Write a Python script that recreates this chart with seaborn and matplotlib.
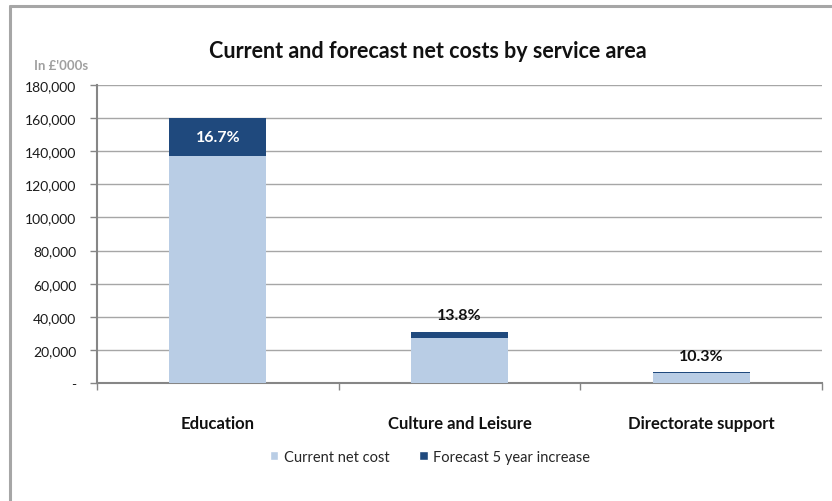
import matplotlib
matplotlib.use("Agg")
import matplotlib.pyplot as plt
from matplotlib.lines import Line2D
from matplotlib.patches import Patch
from matplotlib.ticker import FuncFormatter, FixedLocator
import seaborn as sns
import pandas as pd

# Net costs in £'000s
categories = ["Education", "Culture and Leisure", "Directorate support"]
current_cost = [137000, 27300, 5900]
forecast_increase = [22900, 3770, 610]
pct_labels = ["16.7%", "13.8%", "10.3%"]

light = "#B9CDE5"
dark = "#1F497D"
grid_col = "#A6A6A6"
axis_col = "#868686"

sns.set_theme(style="white")
plt.rcParams["font.family"] = ["Lato", "DejaVu Sans"]

df = pd.DataFrame({
    "category": categories,
    "current": current_cost,
    "total": [c + f for c, f in zip(current_cost, forecast_increase)],
})

W, H = 832, 502
fig = plt.figure(figsize=(W / 100, H / 100), dpi=100)
ax = fig.add_axes([97 / W, (H - 384) / H, (822 - 97) / W, (384 - 86) / H])

sns.barplot(data=df, x="category", y="total", color=dark, width=0.4,
            saturation=1, linewidth=0, ax=ax, zorder=2)
sns.barplot(data=df, x="category", y="current", color=light, width=0.4,
            saturation=1, linewidth=0, ax=ax, zorder=3)

ax.set_xlim(-0.5, 2.5)
ax.set_ylim(0, 180000)
ax.yaxis.set_major_locator(FixedLocator(range(0, 180001, 20000)))
ax.yaxis.set_major_formatter(FuncFormatter(lambda v, p: "-" if v == 0 else f"{int(v):,}"))
ax.grid(axis="y", color=grid_col, linewidth=1.0, zorder=0)
ax.set_axisbelow(True)
ax.set_xlabel("")
ax.set_ylabel("")

for side in ["top", "right"]:
    ax.spines[side].set_visible(False)
for side in ["left", "bottom"]:
    ax.spines[side].set_color(axis_col)
    ax.spines[side].set_linewidth(1.5)

ax.tick_params(axis="y", which="major", left=True, length=5, width=1, color=axis_col,
               labelsize=10, labelcolor="#1a1a1a", pad=10)
ax.tick_params(axis="x", which="major", bottom=False, labelsize=12, pad=17)
for lab in ax.get_xticklabels():
    lab.set_fontweight("bold")
    lab.set_color("#111111")
ax.set_xticks([-0.5, 0.5, 1.5, 2.5], minor=True)
ax.tick_params(axis="x", which="minor", bottom=True, length=5, width=1, color=axis_col)

# Percentage increase labels
totals = df["total"].tolist()
for i, (txt, cur, tot) in enumerate(zip(pct_labels, current_cost, totals)):
    if i == 0:
        ax.text(i, (cur + tot) / 2, txt, ha="center", va="center", color="white",
                fontsize=11.5, fontweight="bold", zorder=5)
    else:
        ax.annotate(txt, (i, tot), xytext=(0, 7), textcoords="offset points",
                    ha="center", va="bottom", color="#111111",
                    fontsize=11.5, fontweight="bold", zorder=5)

fig.text(428 / W, 1 - 52 / H, "Current and forecast net costs by service area",
         ha="center", va="center", fontsize=15.5, fontweight="bold", color="#111111")
fig.text(34 / W, 1 - 66 / H, "In £'000s", ha="left", va="center",
         fontsize=9.5, fontweight="bold", color="#A0A0A0")

handles = [Patch(facecolor=light, label="Current net cost"),
           Patch(facecolor=dark, label="Forecast 5 year increase")]
fig.legend(handles=handles, loc="center", bbox_to_anchor=(430 / W, 1 - 458 / H),
           ncol=2, frameon=False, fontsize=10.5, handlelength=0.6, handleheight=0.6,
           handletextpad=0.4, columnspacing=2.0)

# Chart frame
fig.add_artist(Line2D([10 / W, 1], [1 - 7 / H, 1 - 7 / H], color="#A6A6A6",
                      linewidth=2.2, transform=fig.transFigure))
fig.add_artist(Line2D([10 / W, 10 / W], [0, 1 - 7 / H], color="#A6A6A6",
                      linewidth=2.2, transform=fig.transFigure))

fig.savefig("out.png", dpi=100, facecolor="white")
